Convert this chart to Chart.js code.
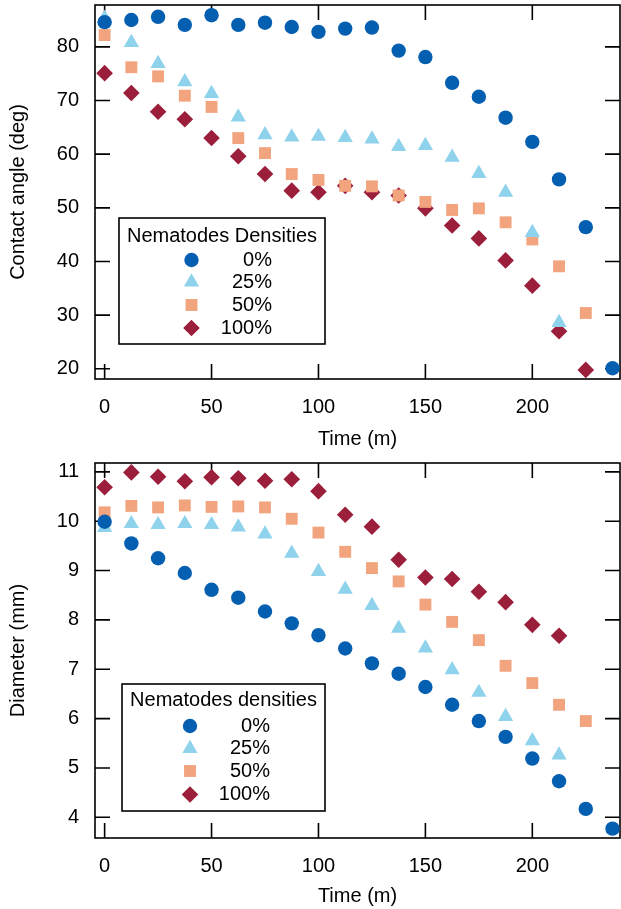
<!DOCTYPE html>
<html>
<head>
<meta charset="utf-8">
<title>Contact angle and diameter</title>
<script src="https://cdn.jsdelivr.net/npm/chart.js@4.4.1/dist/chart.umd.min.js"></script>
<style>
    body { margin: 0; background: #fff; }
    .panel { position: absolute; left: 0; width: 621px; }
    #topPanel { top: 0; height: 455px; }
    #bottomPanel { top: 455px; height: 454px; }
</style>
</head>
<body>
<div class="panel" id="topPanel"><canvas id="angleChart" width="621" height="455"></canvas></div>
<div class="panel" id="bottomPanel"><canvas id="diameterChart" width="621" height="454"></canvas></div>
<script>
// sampling times (minutes)
const times = [0, 12.5, 25, 37.5, 50, 62.5, 75, 87.5, 100, 112.5, 125, 137.5, 150, 162.5, 175, 187.5, 200, 212.5, 225, 237.5];
const densityLabels = ['0%', '25%', '50%', '100%'];

// contact angle (deg)
const angle0 = [84.6, 85.0, 85.6, 84.1, 85.9, 84.1, 84.5, 83.7, 82.8, 83.4, 83.6, 79.3, 78.1, 73.3, 70.7, 66.8, 62.3, 55.3, 46.4, 20.1];
const angle25 = [85.3, 80.8, 76.9, 73.5, 71.3, 66.9, 63.6, 63.2, 63.3, 63.1, 62.8, 61.4, 61.6, 59.4, 56.4, 52.9, 45.4, 28.6];
const angle50 = [82.2, 76.2, 74.5, 70.9, 68.8, 63.0, 60.2, 56.3, 55.2, 54.1, 54.0, 52.3, 51.1, 49.6, 49.9, 47.3, 44.1, 39.1, 30.4];
const angle100 = [75.1, 71.4, 67.9, 66.5, 63.0, 59.6, 56.3, 53.2, 52.9, 54.1, 52.9, 52.3, 49.9, 46.7, 44.3, 40.2, 35.5, 27.0, 19.8];

// diameter (mm)
const diam0 = [9.99, 9.55, 9.25, 8.95, 8.61, 8.45, 8.17, 7.93, 7.69, 7.42, 7.12, 6.91, 6.64, 6.28, 5.95, 5.63, 5.19, 4.73, 4.17, 3.77];
const diam25 = [9.87, 9.95, 9.93, 9.95, 9.93, 9.88, 9.74, 9.35, 8.98, 8.62, 8.29, 7.83, 7.43, 6.99, 6.53, 6.04, 5.55, 5.26];
const diam50 = [10.18, 10.31, 10.28, 10.32, 10.29, 10.30, 10.28, 10.05, 9.77, 9.38, 9.05, 8.78, 8.31, 7.96, 7.59, 7.07, 6.72, 6.28, 5.95];
const diam100 = [10.69, 10.99, 10.90, 10.81, 10.89, 10.87, 10.82, 10.85, 10.61, 10.13, 9.89, 9.22, 8.86, 8.83, 8.57, 8.36, 7.90, 7.68];

const xTicks = [0, 50, 100, 150, 200];

const markers = [
    { color: '#055fb1', style: 'circle', radius: 7.2 },
    { color: '#8ed2ec', style: 'triangle', radius: 8.8 },
    { color: '#f2a47e', style: 'rect', radius: 8.4 },
    { color: '#9b1e3a', style: 'rectRot', radius: 8.3 }
];

Chart.defaults.font.family = '"Liberation Sans", Arial, sans-serif';
Chart.defaults.font.size = 20;
Chart.defaults.color = '#000';

function toPoints(values) {
    return values.map((v, i) => ({ x: times[i], y: v }));
}

function buildDatasets(series) {
    return series.map((values, i) => ({
        label: densityLabels[i],
        data: toPoints(values),
        pointStyle: markers[i].style,
        pointRadius: markers[i].radius,
        pointBackgroundColor: markers[i].color,
        pointBorderWidth: 0,
        showLine: false,
        clip: false
    }));
}

// the scales should not push the plot area in for overhanging labels
function noOverhang(scale) {
    scale.paddingTop = 0;
    scale.paddingBottom = 0;
    scale.paddingLeft = 0;
    scale.paddingRight = 0;
}

// frame with inward ticks on all four sides
const frameTicks = {
    id: 'frameTicks',
    beforeDatasetsDraw(chart) {
        const { ctx, chartArea: a, scales: { x, y } } = chart;
        const len = 15;
        ctx.save();
        ctx.strokeStyle = '#000';
        ctx.lineWidth = 1.6;
        ctx.strokeRect(a.left, a.top, a.right - a.left, a.bottom - a.top);
        ctx.beginPath();
        for (const t of x.ticks) {
            const px = x.getPixelForValue(t.value);
            ctx.moveTo(px, a.bottom);
            ctx.lineTo(px, a.bottom - len);
            ctx.moveTo(px, a.top);
            ctx.lineTo(px, a.top + len);
        }
        for (const t of y.ticks) {
            const py = y.getPixelForValue(t.value);
            ctx.moveTo(a.left, py);
            ctx.lineTo(a.left + len, py);
            ctx.moveTo(a.right, py);
            ctx.lineTo(a.right - len, py);
        }
        ctx.stroke();
        ctx.restore();
    }
};

// boxed legend with a title, markers centred and labels right aligned
const boxLegend = {
    id: 'boxLegend',
    afterDatasetsDraw(chart, args, opts) {
        const { ctx } = chart;
        ctx.save();
        ctx.fillStyle = '#fff';
        ctx.fillRect(opts.left, opts.top, opts.width, opts.height);
        ctx.strokeStyle = '#000';
        ctx.lineWidth = 1.6;
        ctx.strokeRect(opts.left, opts.top, opts.width, opts.height);

        ctx.font = '20px "Liberation Sans", Arial, sans-serif';
        ctx.fillStyle = '#000';
        ctx.textBaseline = 'middle';
        ctx.textAlign = 'center';
        ctx.fillText(opts.title, opts.left + opts.width / 2, opts.titleY);

        chart.data.datasets.forEach((ds, i) => {
            const rowY = opts.rowY[i];
            ctx.fillStyle = ds.pointBackgroundColor;
            Chart.helpers.drawPoint(ctx, {
                pointStyle: ds.pointStyle,
                radius: ds.pointRadius,
                rotation: 0,
                borderWidth: 0
            }, opts.markerX, rowY);
            ctx.fillStyle = '#000';
            ctx.textAlign = 'right';
            ctx.fillText(ds.label, opts.labelX, rowY);
        });
        ctx.restore();
    }
};

function renderChart(canvasId, series, cfg) {
    const ctx = document.getElementById(canvasId).getContext('2d');
    return new Chart(ctx, {
        type: 'scatter',
        data: { datasets: buildDatasets(series) },
        options: {
            responsive: false,
            animation: false,
            events: [],
            layout: {
                autoPadding: false,
                padding: { top: cfg.padTop, right: 1, left: 0, bottom: 0 }
            },
            plugins: {
                legend: { display: false },
                tooltip: { enabled: false },
                boxLegend: cfg.legend
            },
            scales: {
                x: {
                    type: 'linear',
                    min: -4.5,
                    max: 241,
                    grid: { display: false },
                    border: { display: false },
                    afterBuildTicks: (scale) => { scale.ticks = xTicks.map(v => ({ value: v })); },
                    ticks: { padding: 8, maxRotation: 0 },
                    title: { display: true, text: 'Time (m)', padding: { top: 4, bottom: cfg.titlePadBottom } },
                    afterFit: (scale) => { scale.height = cfg.xHeight; noOverhang(scale); }
                },
                y: {
                    type: 'linear',
                    min: cfg.yMin,
                    max: cfg.yMax,
                    grid: { display: false },
                    border: { display: false },
                    afterBuildTicks: (scale) => { scale.ticks = cfg.yTicks.map(v => ({ value: v })); },
                    ticks: { padding: 8 },
                    title: { display: true, text: cfg.yTitle, padding: { top: 6, bottom: 0 } },
                    afterFit: (scale) => { scale.width = 95; noOverhang(scale); }
                }
            }
        },
        plugins: [frameTicks, boxLegend]
    });
}

renderChart('angleChart', [angle0, angle25, angle50, angle100], {
    padTop: 5,
    xHeight: 76,
    titlePadBottom: 4,
    yMin: 18.1,
    yMax: 87.8,
    yTicks: [20, 30, 40, 50, 60, 70, 80],
    yTitle: 'Contact angle (deg)',
    legend: {
        title: 'Nematodes Densities',
        left: 119, top: 218, width: 206, height: 126,
        titleY: 236,
        rowY: [260, 282, 305, 328],
        markerX: 191.5,
        labelX: 272
    }
});

renderChart('diameterChart', [diam0, diam25, diam50, diam100], {
    padTop: 8,
    xHeight: 71,
    titlePadBottom: 1,
    yMin: 3.58,
    yMax: 11.18,
    yTicks: [4, 5, 6, 7, 8, 9, 10, 11],
    yTitle: 'Diameter (mm)',
    legend: {
        title: 'Nematodes densities',
        left: 122, top: 229, width: 203, height: 127,
        titleY: 245.5,
        rowY: [271, 293.5, 316, 339.5],
        markerX: 190,
        labelX: 270
    }
});
</script>
</body>
</html>
